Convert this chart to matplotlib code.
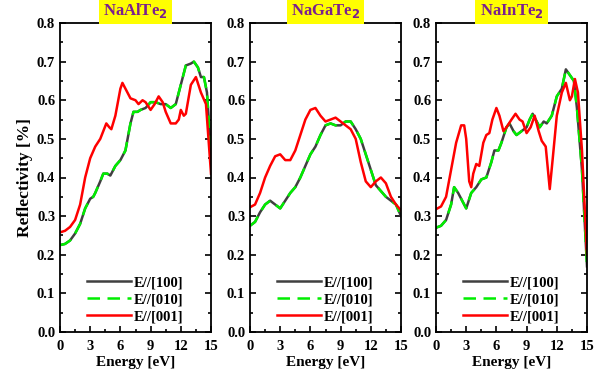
import matplotlib.pyplot as plt
from matplotlib.ticker import MultipleLocator

plt.rcParams['font.family'] = ['Liberation Serif', 'DejaVu Serif']
plt.rcParams['font.weight'] = 'bold'

names = ['NaAlTe$_\\mathbf{2}$', 'NaGaTe$_\\mathbf{2}$', 'NaInTe$_\\mathbf{2}$']
labels = ['E//[100]', 'E//[010]', 'E//[001]']

# NaAlTe2
al_e_xy = [0, 0.5, 1, 1.5, 2, 2.5, 3, 3.3, 3.5, 4, 4.3, 4.7, 5, 5.3, 5.5, 6, 6.5, 7, 7.3, 7.7,
           8, 8.5, 9, 9.5, 10, 10.5, 11, 11.5, 12, 12.5, 13, 13.3, 13.7, 14, 14.3, 14.6, 15]
al_xy = [0.225, 0.228, 0.237, 0.255, 0.28, 0.32, 0.345, 0.35, 0.36, 0.39, 0.41, 0.41, 0.405,
         0.42, 0.43, 0.445, 0.47, 0.54, 0.57, 0.57, 0.575, 0.58, 0.595, 0.595, 0.59, 0.59,
         0.58, 0.59, 0.64, 0.69, 0.695, 0.70, 0.685, 0.66, 0.66, 0.62, 0.46]
al_e_z = [0, 0.5, 1, 1.5, 2, 2.5, 3, 3.5, 4, 4.3, 4.6, 4.9, 5.1, 5.5, 6, 6.2, 6.5, 7, 7.5, 7.8,
          8.2, 8.5, 9, 9.4, 9.8, 10.2, 10.5, 11, 11.5, 11.8, 12, 12.3, 12.5, 13, 13.5, 14, 14.5, 15]
al_z = [0.258, 0.262, 0.272, 0.29, 0.33, 0.40, 0.45, 0.48, 0.50, 0.52, 0.54, 0.53, 0.525,
        0.56, 0.63, 0.645, 0.63, 0.605, 0.60, 0.59, 0.60, 0.595, 0.575, 0.59, 0.61, 0.595,
        0.57, 0.54, 0.54, 0.55, 0.575, 0.56, 0.565, 0.64, 0.66, 0.62, 0.59, 0.41]

# NaGaTe2
ga_e_xy = [0, 0.5, 1, 1.5, 2, 2.5, 3, 3.5, 4, 4.5, 5, 5.5, 6, 6.5, 7, 7.5, 8, 8.5, 9, 9.5,
           10, 10.5, 11, 11.5, 12, 12.5, 13, 13.5, 14, 14.5, 15]
ga_xy = [0.275, 0.285, 0.31, 0.33, 0.34, 0.33, 0.32, 0.34, 0.36, 0.375, 0.40, 0.43, 0.46,
         0.48, 0.51, 0.535, 0.54, 0.535, 0.535, 0.545, 0.545, 0.525, 0.50, 0.46, 0.42, 0.38,
         0.365, 0.35, 0.34, 0.33, 0.30]
ga_e_z = ga_e_xy
ga_z = [0.323, 0.33, 0.36, 0.40, 0.43, 0.455, 0.46, 0.445, 0.445, 0.47, 0.51, 0.55, 0.575,
        0.58, 0.56, 0.545, 0.55, 0.555, 0.545, 0.535, 0.525, 0.50, 0.44, 0.39, 0.375, 0.39,
        0.40, 0.385, 0.35, 0.33, 0.315]

# NaInTe2
in_e_xy = [0, 0.5, 1, 1.5, 1.8, 2.2, 2.5, 3, 3.5, 4, 4.5, 5, 5.5, 5.8, 6.2, 6.5, 7, 7.3, 7.7,
           8, 8.5, 9, 9.3, 9.6, 10, 10.3, 10.7, 11, 11.5, 12, 12.5, 12.9, 13.3, 13.7, 14,
           14.5, 15]
in_xy = [0.27, 0.275, 0.29, 0.33, 0.375, 0.36, 0.345, 0.32, 0.36, 0.375, 0.395, 0.40, 0.44,
         0.47, 0.47, 0.49, 0.53, 0.54, 0.52, 0.51, 0.52, 0.53, 0.55, 0.565, 0.545, 0.53,
         0.545, 0.54, 0.56, 0.61, 0.63, 0.68, 0.665, 0.65, 0.58, 0.42, 0.17]
in_e_z = [0, 0.5, 1, 1.5, 2, 2.5, 2.8, 3, 3.3, 3.5, 3.7, 4, 4.3, 4.7, 5, 5.3, 5.6, 6, 6.3,
          6.7, 7, 7.5, 7.9, 8.3, 8.6, 9, 9.4, 9.8, 10.2, 10.5, 10.9, 11.3, 11.6, 12, 12.5,
          12.9, 13.3, 13.5, 13.8, 14.1, 14.5, 15]
in_z = [0.318, 0.325, 0.35, 0.42, 0.49, 0.535, 0.535, 0.50, 0.39, 0.375, 0.41, 0.435, 0.43,
        0.49, 0.51, 0.515, 0.55, 0.58, 0.56, 0.52, 0.53, 0.55, 0.565, 0.55, 0.545, 0.515,
        0.53, 0.56, 0.52, 0.495, 0.48, 0.37, 0.45, 0.56, 0.62, 0.645, 0.60, 0.61, 0.655,
        0.62, 0.47, 0.20]

panels = [(al_e_xy, al_xy, al_e_z, al_z), (ga_e_xy, ga_xy, ga_e_z, ga_z),
          (in_e_xy, in_xy, in_e_z, in_z)]

fig = plt.figure(figsize=(6.06, 3.8), dpi=100)
lefts = [60, 250, 436]
for i, (ex, rx, ez, rz) in enumerate(panels):
    ax = fig.add_axes([lefts[i] / 606, 48 / 380, 151 / 606, 309 / 380])
    ax.plot(ex, rx, color='#404040', lw=1.8, label=labels[0])
    ax.plot(ex, rx, color='#00ee00', lw=1.8, ls=(0, (5, 3)), label=labels[1])
    ax.plot(ez, rz, color='red', lw=1.8, label=labels[2])
    ax.set_xlim(0, 15)
    ax.set_ylim(0, 0.8)
    ax.xaxis.set_major_locator(MultipleLocator(3))
    ax.xaxis.set_minor_locator(MultipleLocator(1.5))
    ax.yaxis.set_major_locator(MultipleLocator(0.1))
    ax.yaxis.set_minor_locator(MultipleLocator(0.05))
    ax.tick_params(which='both', direction='in', right=True, labelsize=10.5, width=1.2)
    ax.tick_params(which='major', length=4)
    ax.tick_params(which='minor', length=2)
    ax.tick_params(axis='x', pad=6)
    for s in ax.spines.values():
        s.set_linewidth(1.3)
    ax.set_xlabel('Energy [eV]', fontsize=11, fontweight='bold', labelpad=2)
    if i == 0:
        ax.set_ylabel('Reflectivity [%]', fontsize=12.5, fontweight='bold', labelpad=3)
    ax.legend(loc='lower center', frameon=False, fontsize=10.5, handlelength=3.0,
              handletextpad=0.2, labelspacing=0.25, borderaxespad=0.2)
    ax.text(0.5, 1.01, names[i], transform=ax.transAxes, ha='center', va='bottom',
            fontsize=12, fontweight='bold', color='#7a1f8f',
            bbox=dict(boxstyle='square,pad=0.25', fc='#ffff00', ec='none'))

fig.savefig('out.png', dpi=100)
